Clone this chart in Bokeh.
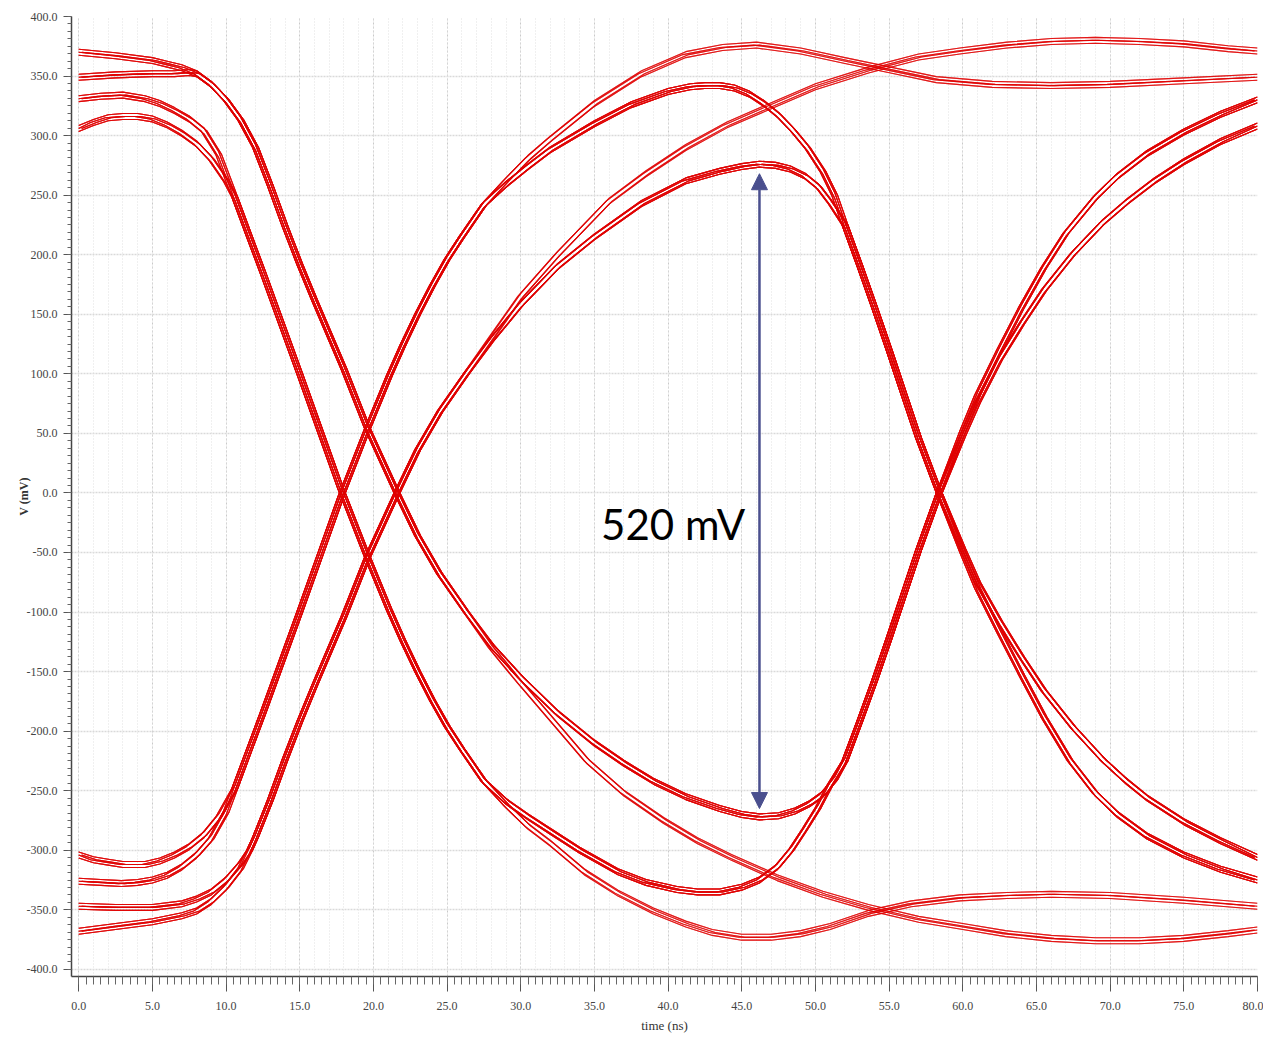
from bokeh.plotting import figure
from bokeh.models import (ColumnDataSource, SingleIntervalTicker, PrintfTickFormatter,
                          Grid, Arrow, NormalHead, Label, Range1d)
from bokeh.embed import file_html
from bokeh.resources import INLINE

# ---------------- data (time in ns, voltage in mV) ----------------
# start segments
t_H1 = [0, 2.5, 5, 6, 7, 8];                        v_H1 = [370, 367, 363, 360, 357, 352]
t_H2 = [0, 2.5, 5, 6.5, 7.5, 8];                    v_H2 = [349, 351, 352, 352, 353, 352]
t_H3 = [0, 1.5, 3, 4.5, 5.5, 6.5, 7.5, 8.5, 9.5, 10.6]
v_H3 = [331, 333, 334, 331, 327, 321, 314, 304, 284, 248]
t_H4 = [0, 1, 2, 3, 4, 5, 6, 7, 8, 9, 10, 10.6]
v_H4 = [306, 311, 315, 316, 316, 314, 309, 302, 293, 280, 262, 248]
t_L1 = [0, 1, 2, 3, 4.5, 5.5, 6.5, 7.5, 8.5, 9.5, 10.6]
v_L1 = [-304, -308, -310, -312, -312, -309, -304, -297, -287, -272, -248]
t_L2 = [0, 1.5, 2.9, 4, 5, 6, 7, 8, 9, 10, 10.6]
v_L2 = [-326, -327, -328, -327, -325, -321, -314, -304, -290, -268, -248]
t_L3 = [0, 2.5, 5, 7, 8, 9, 10, 11, 11.6]
v_L3 = [-347, -348, -348, -345, -341, -335, -325, -311, -300]
t_L4 = [0, 2.5, 5, 7, 8, 9, 10, 11, 11.6]
v_L4 = [-368, -364, -360, -355, -351, -343, -331, -315, -300]

# first transition
t_FL = [8, 9, 10, 11, 12, 13, 14, 15, 16, 17, 18, 19.6, 21.6, 23, 24.5, 26.3]
v_FL = [352, 343, 330, 313, 290, 258, 224, 192, 162, 133, 104, 54, 0, -36, -68, -100]
t_RL = [11.6, 12, 13, 14, 15, 16, 17, 18, 19.6, 21.6, 23, 24.5, 26.3]
v_RL = [-300, -289, -258, -224, -192, -162, -133, -104, -54, 0, 36, 68, 100]
t_FE = [10.6, 11.5, 12.5, 13.5, 15, 16.5, 17.8, 19.6, 21.1, 22, 23, 24, 25, 26, 27.5]
v_FE = [248, 218, 185, 151, 100, 48, 3, -54, -99, -124, -150, -174, -196, -215, -242]
t_RE = [10.6, 11.5, 12.5, 13.5, 15, 16.5, 17.8, 19.6, 21.1, 22, 23, 24, 25, 26, 27.5]
v_RE = [-248, -218, -185, -151, -100, -48, -3, 54, 99, 124, 150, 174, 196, 215, 242]

# middle bit
t_A = [27.5, 29, 30.5, 32, 35, 38.2, 41.2, 43.7, 46, 49, 52, 55.1, 58.2, 62, 66, 70, 75, 80]
v_A = [242, 262, 281, 297, 327, 352, 368, 374, 376, 371, 363, 355, 347, 343, 342, 343, 346, 349]
t_B = [27.5, 29, 30.5, 32, 35, 37.5, 40, 41.5, 42.5, 43.5, 44.5, 45.5, 46.5, 47.5, 48.5, 49.5,
       50.5, 51.3, 52]
v_B = [242, 259, 274, 288, 310, 326, 337, 341, 342, 342, 340, 335, 327, 317, 304, 289,
       270, 250, 225]
t_C = [26.3, 28, 30, 32.5, 36, 38.5, 41.2, 44, 46.8, 50, 53.6, 57, 59.8, 63, 66, 69, 72, 75, 78, 80]
v_C = [100, 130, 165, 200, 245, 268, 290, 309, 324, 341, 355, 366, 371, 376, 379, 380, 379, 377,
       373, 371]
t_D = [26.3, 28, 30, 32.5, 35, 38.2, 41.2, 43.5, 45, 46.2, 47.3, 48.3, 49.3, 50.2, 51, 52]
v_D = [100, 128, 158, 190, 215, 243, 262, 270, 274, 276, 275, 272, 266, 257, 244, 225]
t_E = [26.3, 28, 30, 32.5, 35, 37, 39, 41.2, 43.5, 45, 46.2, 47.5, 48.6, 49.6, 50.5, 51.3, 52]
v_E = [-100, -128, -155, -185, -210, -227, -242, -255, -265, -270, -272, -271, -267, -261, -253,
       -241, -225]
t_F = [26.3, 28, 30, 32.5, 34.5, 37, 39.7, 42, 44.3, 47.4, 50.5, 53.6, 57, 60, 62.9, 66, 69, 72,
       75, 78, 80]
v_F = [-100, -130, -160, -196, -225, -252, -275, -292, -306, -323, -337, -348, -358, -364, -370,
       -374, -376, -376, -374, -370, -367]
t_G = [27.5, 29, 30.5, 32, 34, 36.6, 38.5, 40.6, 42, 43.5, 45, 46.2, 47.4, 48.4, 49.3, 50.2, 51, 52]
v_G = [-242, -259, -272, -284, -300, -318, -327, -333, -335, -335, -331, -325, -314, -299, -282,
       -264, -245, -225]
t_H = [27.5, 29, 30.5, 32, 34.3, 36.6, 39, 41.2, 43, 45, 47, 49, 51, 53.6, 56.5, 59.8, 63, 66,
       70, 75, 80]
v_H = [-242, -262, -280, -294, -318, -336, -351, -362, -369, -373, -373, -370, -364, -353, -345,
       -340, -338, -337, -338, -342, -347]

# second transition
t_FS = [52, 53, 54, 55, 56, 57, 58.4];   v_FS = [225, 191, 156, 120, 83, 46, 0]
t_RS = [52, 53, 54, 55, 56, 57, 58.4];   v_RS = [-225, -192, -158, -122, -85, -48, 0]
t_FB1 = [58.4, 60, 61, 62.5, 64, 65.5, 67.3, 69, 70.5, 72.5, 75, 77.5, 80]
v_FB1 = [0, -50, -80, -117, -153, -188, -225, -252, -270, -288, -304, -316, -325]
t_FB2 = [58.4, 60, 61, 62.5, 64, 65.5, 67.5, 69.5, 71, 72.5, 75, 77.5, 80]
v_FB2 = [0, -47, -75, -108, -138, -166, -197, -224, -241, -256, -276, -292, -306]
t_RB1 = [58.4, 60, 61, 62.5, 64, 65.5, 67, 69, 70.5, 72.5, 75, 77.5, 80]
v_RB1 = [0, 52, 82, 120, 156, 189, 218, 248, 266, 285, 303, 318, 330]
t_RB2 = [58.4, 60, 61, 62.5, 64, 65.5, 67.5, 69.5, 71.2, 73, 75, 77.5, 80]
v_RB2 = [0, 48, 76, 112, 142, 170, 201, 227, 245, 262, 278, 295, 308]

# spread of the individual traces inside one bundle: (time shift ns, voltage shift mV)
bundle_spread = [(-0.2, 0.0), (0.2, 0.0), (0.0, -2.5), (0.0, 2.5)]

# eye-opening marker
eye_time = 46.2
eye_top = 268
eye_bottom = -265
eye_label = "520 mV"
T_MIN, T_MAX = 0.0, 80.0

SEG = {
    "H1": (t_H1, v_H1), "H2": (t_H2, v_H2), "H3": (t_H3, v_H3), "H4": (t_H4, v_H4),
    "L1": (t_L1, v_L1), "L2": (t_L2, v_L2), "L3": (t_L3, v_L3), "L4": (t_L4, v_L4),
    "FL": (t_FL, v_FL), "RL": (t_RL, v_RL), "FE": (t_FE, v_FE), "RE": (t_RE, v_RE),
    "A": (t_A, v_A), "B": (t_B, v_B), "C": (t_C, v_C), "D": (t_D, v_D),
    "E": (t_E, v_E), "F": (t_F, v_F), "G": (t_G, v_G), "H": (t_H, v_H),
    "FS": (t_FS, v_FS), "RS": (t_RS, v_RS),
    "FB1": (t_FB1, v_FB1), "FB2": (t_FB2, v_FB2), "RB1": (t_RB1, v_RB1), "RB2": (t_RB2, v_RB2),
}

paths = []
for s in ["H1", "H2"]:
    paths += [[s, "FL", "E", "RS", "RB1"], [s, "FL", "E", "RS", "RB2"], [s, "FL", "F"]]
for s in ["H3", "H4"]:
    paths += [[s, "FE", "G", "RS", "RB1"], [s, "FE", "G", "RS", "RB2"], [s, "FE", "H"]]
for s in ["L1", "L2"]:
    paths += [[s, "RE", "A"], [s, "RE", "B", "FS", "FB1"], [s, "RE", "B", "FS", "FB2"]]
for s in ["L3", "L4"]:
    paths += [[s, "RL", "C"], [s, "RL", "D", "FS", "FB1"], [s, "RL", "D", "FS", "FB2"]]


def build(names):
    xs, ys = [], []
    for n in names:
        t, v = SEG[n]
        if xs and xs[-1] == t[0]:
            t, v = t[1:], v[1:]
        xs += list(t)
        ys += list(v)
    return xs, ys


all_x, all_y = [], []
for pth in paths:
    xs, ys = build(pth)
    for dt, dv in bundle_spread:
        all_x.append([min(max(x + dt, T_MIN), T_MAX) for x in xs])
        all_y.append([y + dv for y in ys])

src = ColumnDataSource(data=dict(xs=all_x, ys=all_y))

# ---------------- figure ----------------
p = figure(width=1263, height=1037, output_backend="svg", toolbar_location=None,
           x_range=Range1d(-0.49, 80), y_range=Range1d(-406, 400),
           min_border_left=71, min_border_right=6, min_border_top=16, min_border_bottom=61)
p.outline_line_color = None
p.background_fill_color = "white"
p.border_fill_color = "white"

# grids
p.xgrid.ticker = SingleIntervalTicker(interval=5)
p.xgrid.grid_line_color = "#c9c9c9"
p.xgrid.grid_line_dash = "2 2"
p.xgrid.grid_line_width = 1
p.ygrid.ticker = SingleIntervalTicker(interval=50)
p.ygrid.grid_line_color = "#d9d9d9"
p.ygrid.grid_line_dash = "2 1"
p.ygrid.grid_line_width = 1.6
minor_grid = Grid(dimension=0, ticker=SingleIntervalTicker(interval=1),
                  grid_line_color="#e0e0e0", grid_line_dash="1 2", grid_line_width=1)
p.add_layout(minor_grid)

p.multi_line(xs="xs", ys="ys", source=src, line_color="#e00000", line_alpha=0.7, line_width=1.1)

# axes
label_font = "Liberation Serif"
p.xaxis.ticker = SingleIntervalTicker(interval=5, num_minor_ticks=10)
p.yaxis.ticker = SingleIntervalTicker(interval=50, num_minor_ticks=8)
for ax in (p.xaxis[0], p.yaxis[0]):
    ax.formatter = PrintfTickFormatter(format="%.1f")
    ax.axis_line_color = "#444444"
    ax.axis_line_width = 1.5
    ax.major_tick_line_color = "#555555"
    ax.minor_tick_line_color = "#666666"
    ax.major_tick_in = 0
    ax.minor_tick_in = 0
    ax.major_label_text_font = label_font
    ax.major_label_text_font_size = "12px"
    ax.major_label_text_color = "#444444"
    ax.axis_label_text_font = label_font
    ax.axis_label_text_color = "#333333"

p.xaxis.major_tick_out = 15
p.xaxis.minor_tick_out = 8
p.xaxis.major_label_standoff = 10
p.xaxis.axis_label = "time (ns)"
p.xaxis.axis_label_text_font_size = "13px"
p.xaxis.axis_label_text_font_style = "normal"
p.xaxis.axis_label_standoff = 5

p.yaxis.major_tick_out = 8
p.yaxis.minor_tick_out = 4
p.yaxis.major_label_standoff = 6
p.yaxis.axis_label = "V (mV)"
p.yaxis.axis_label_text_font_size = "12px"
p.yaxis.axis_label_text_font_style = "bold"
p.yaxis.axis_label_standoff = -7

# eye-opening arrow and label
ac = "#4a4f8e"
p.add_layout(Arrow(start=NormalHead(size=16, fill_color=ac, line_color=ac),
                   end=NormalHead(size=16, fill_color=ac, line_color=ac),
                   x_start=eye_time, y_start=eye_bottom, x_end=eye_time, y_end=eye_top,
                   line_color=ac, line_width=2.5))
p.add_layout(Label(x=35.45, y=-26, text=eye_label, text_font="Lato", text_font_size="42px",
                   text_baseline="middle", text_align="left", text_color="black"))

open("out.html", "w").write(file_html(p, INLINE))
